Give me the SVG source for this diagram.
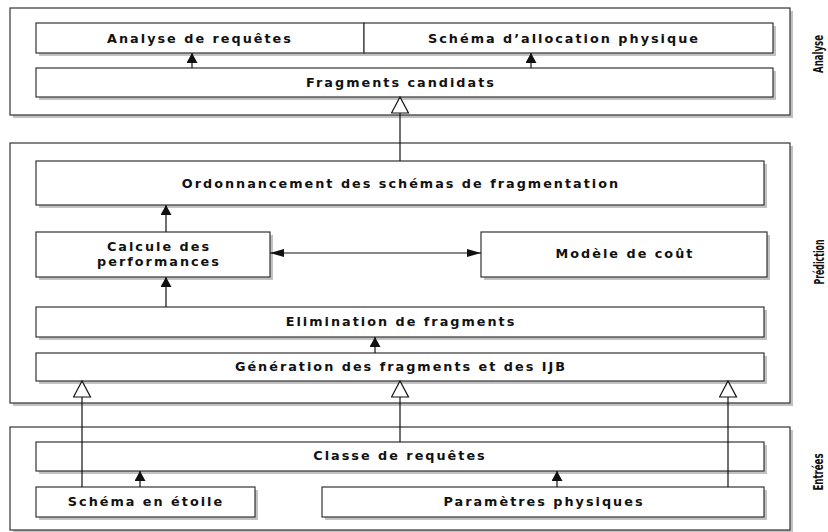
<svg xmlns="http://www.w3.org/2000/svg" width="828" height="532" viewBox="0 0 828 532">
<defs>
<style>
.sh{fill:#c2c2c2}
.box{fill:#fff;stroke:#333;stroke-width:1.2}
.t{font-family:"DejaVu Sans","Verdana",sans-serif;font-weight:bold;font-size:12.8px;letter-spacing:2px;fill:#111;text-anchor:middle}
.side{font-family:"DejaVu Sans Condensed","DejaVu Sans",sans-serif;font-weight:bold;font-size:14.5px;fill:#111;text-anchor:middle}
.c{stroke:#111;stroke-width:1.2;fill:none}
</style>
<marker id="fa" viewBox="0 0 10 11" refX="10" refY="5.5" markerWidth="10" markerHeight="11" markerUnits="userSpaceOnUse" orient="auto">
<path d="M0,0 L10,5.5 L0,11 z" fill="#111"/>
</marker>
<marker id="fh" viewBox="0 0 14 8" refX="14" refY="4" markerWidth="14" markerHeight="8" markerUnits="userSpaceOnUse" orient="auto-start-reverse">
<path d="M0,0 L14,4 L0,8 z" fill="#111"/>
</marker>
<marker id="ho" viewBox="-1 -1 18 19" refX="16" refY="8.5" markerWidth="18" markerHeight="19" markerUnits="userSpaceOnUse" orient="auto">
<path d="M0,0 L16,8.5 L0,17 z" fill="#fff" stroke="#111" stroke-width="1.2"/>
</marker>
</defs>
<rect width="828" height="532" fill="#fff"/>

<g id="analyse">
<rect class="sh" x="13" y="11" width="780" height="107"/>
<rect class="box" x="10" y="8" width="780" height="107"/>
<text class="side" transform="translate(823,54) rotate(-90)" textLength="38" lengthAdjust="spacingAndGlyphs">Analyse</text>
</g>
<g id="prediction">
<rect class="sh" x="13" y="146" width="780" height="260"/>
<rect class="box" x="10" y="143" width="780" height="260"/>
<text class="side" transform="translate(824,262) rotate(-90)" textLength="45" lengthAdjust="spacingAndGlyphs">Prédiction</text>
</g>
<g id="entrees">
<rect class="sh" x="13" y="430" width="780" height="103"/>
<rect class="box" x="10" y="427" width="780" height="103"/>
<text class="side" transform="translate(823,472) rotate(-90)" textLength="37" lengthAdjust="spacingAndGlyphs">Entrées</text>
</g>

<g id="n1">
<rect class="sh" x="39" y="26" width="328" height="30"/>
<rect class="box" x="36" y="23" width="328" height="30"/>
<text class="t" x="200" y="43">Analyse de requêtes</text>
</g>
<g id="n2">
<rect class="sh" x="367" y="26" width="409" height="30"/>
<rect class="box" x="364" y="23" width="409" height="30"/>
<text class="t" x="564" y="43">Schéma d’allocation physique</text>
</g>
<g id="n3">
<rect class="sh" x="39" y="71" width="737" height="29"/>
<rect class="box" x="36" y="68" width="737" height="29"/>
<text class="t" x="401" y="87">Fragments candidats</text>
</g>
<g id="n4">
<rect class="sh" x="39" y="164" width="728" height="44"/>
<rect class="box" x="36" y="161" width="728" height="44"/>
<text class="t" x="401" y="188">Ordonnancement des schémas de fragmentation</text>
</g>
<g id="n5">
<rect class="sh" x="39" y="235" width="234" height="45"/>
<rect class="box" x="36" y="232" width="234" height="45"/>
<text class="t" x="159" y="251">Calcule des</text>
<text class="t" x="159" y="266">performances</text>
</g>
<g id="n6">
<rect class="sh" x="484" y="235" width="286" height="45"/>
<rect class="box" x="481" y="232" width="286" height="45"/>
<text class="t" x="625" y="258">Modèle de coût</text>
</g>
<g id="n7">
<rect class="sh" x="39" y="310" width="728" height="30"/>
<rect class="box" x="36" y="307" width="728" height="30"/>
<text class="t" x="401" y="326">Elimination de fragments</text>
</g>
<g id="n8">
<rect class="sh" x="39" y="356" width="728" height="28"/>
<rect class="box" x="36" y="353" width="728" height="28"/>
<text class="t" x="401" y="371">Génération des fragments et des IJB</text>
</g>
<g id="n9">
<rect class="sh" x="39" y="445" width="728" height="29"/>
<rect class="box" x="36" y="442" width="728" height="29"/>
<text class="t" x="400" y="460">Classe de requêtes</text>
</g>
<g id="n10">
<rect class="sh" x="39" y="490" width="219" height="30"/>
<rect class="box" x="36" y="487" width="219" height="30"/>
<text class="t" x="146" y="506">Schéma en étoile</text>
</g>
<g id="n11">
<rect class="sh" x="325" y="490" width="442" height="30"/>
<rect class="box" x="322" y="487" width="442" height="30"/>
<text class="t" x="544" y="506">Paramètres physiques</text>
</g>

<g id="connectors">
<line class="c" x1="192" y1="68" x2="192" y2="53" marker-end="url(#fa)"/>
<line class="c" x1="531" y1="68" x2="531" y2="53" marker-end="url(#fa)"/>
<line class="c" x1="400" y1="161" x2="400" y2="97" marker-end="url(#ho)"/>
<line class="c" x1="166" y1="232" x2="166" y2="205" marker-end="url(#fa)"/>
<line class="c" x1="166" y1="307" x2="166" y2="277" marker-end="url(#fa)"/>
<line class="c" x1="270" y1="253" x2="481" y2="253" marker-start="url(#fh)" marker-end="url(#fh)"/>
<line class="c" x1="375" y1="353" x2="375" y2="337" marker-end="url(#fa)"/>
<line class="c" x1="82" y1="487" x2="82" y2="381" marker-end="url(#ho)"/>
<line class="c" x1="400" y1="442" x2="400" y2="381" marker-end="url(#ho)"/>
<line class="c" x1="728" y1="487" x2="728" y2="381" marker-end="url(#ho)"/>
<line class="c" x1="140" y1="487" x2="140" y2="471" marker-end="url(#fa)"/>
<line class="c" x1="557" y1="487" x2="557" y2="471" marker-end="url(#fa)"/>
</g>
</svg>
